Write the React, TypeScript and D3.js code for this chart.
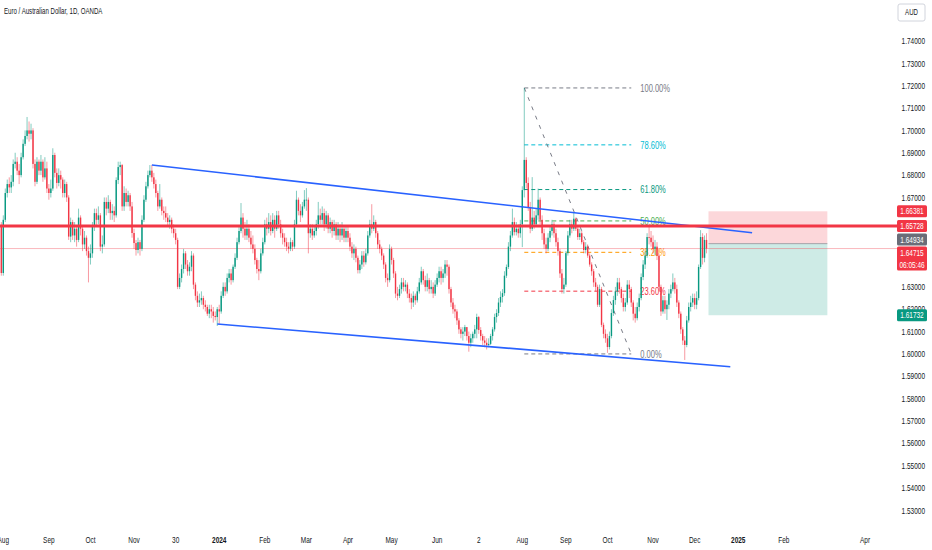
import { useEffect, useRef } from 'react';
import * as d3 from 'd3';

// first bar of the series, later bars follow on weekdays
const firstBarDate = '2023-07-31';
const firstOpen = 1.6577;

const closes = [
  1.6362,
  // Aug 2023
  1.6600, 1.6720, 1.6760, 1.6745, 1.6770, 1.6850, 1.6860, 1.6820, 1.6800, 1.6880, 1.6940, 1.6975, 1.7000, 1.6985, 1.7000, 1.6850, 1.6770, 1.6860, 1.6820, 1.6860, 1.6790, 1.6830, 1.6740,
  // Sep 2023
  1.6720, 1.6740, 1.6890, 1.6810, 1.6765, 1.6800, 1.6780, 1.6720, 1.6760, 1.6700, 1.6525, 1.6590, 1.6530, 1.6560, 1.6510, 1.6610, 1.6560, 1.6490, 1.6520, 1.6460, 1.6430,
  // Oct 2023
  1.6450, 1.6570, 1.6630, 1.6600, 1.6620, 1.6480, 1.6490, 1.6680, 1.6650, 1.6680, 1.6630, 1.6640, 1.6620, 1.6778, 1.6836, 1.6845, 1.6660, 1.6720, 1.6680, 1.6710, 1.6660, 1.6541,
  // Nov 2023
  1.6496, 1.6465, 1.6500, 1.6470, 1.6600, 1.6690, 1.6750, 1.6800, 1.6820, 1.6790, 1.6760, 1.6720, 1.6660, 1.6690, 1.6640, 1.6630, 1.6610, 1.6590, 1.6600, 1.6560, 1.6540, 1.6510,
  // Dec 2023
  1.6300, 1.6340, 1.6380, 1.6450, 1.6400, 1.6370, 1.6390, 1.6440, 1.6310, 1.6260, 1.6230, 1.6240, 1.6250, 1.6220, 1.6210, 1.6180, 1.6200, 1.6190, 1.6170, 1.6165, 1.6200,
  // Jan 2024
  1.6190, 1.6260, 1.6300, 1.6280, 1.6340, 1.6360, 1.6330, 1.6390, 1.6430, 1.6500, 1.6550, 1.6610, 1.6560, 1.6530, 1.6560, 1.6520, 1.6490, 1.6470, 1.6420, 1.6380, 1.6370, 1.6450, 1.6500,
  // Feb 2024
  1.6580, 1.6560, 1.6590, 1.6550, 1.6600, 1.6560, 1.6620, 1.6580, 1.6540, 1.6520, 1.6500, 1.6480, 1.6470, 1.6500, 1.6480, 1.6580, 1.6690, 1.6640, 1.6620, 1.6660, 1.6690,
  // Mar 2024
  1.6690, 1.6540, 1.6560, 1.6530, 1.6550, 1.6580, 1.6620, 1.6600, 1.6630, 1.6580, 1.6620, 1.6560, 1.6590, 1.6550, 1.6580, 1.6530, 1.6560, 1.6530, 1.6560, 1.6520, 1.6550,
  // Apr 2024
  1.6520, 1.6480, 1.6450, 1.6470, 1.6430, 1.6375, 1.6400, 1.6440, 1.6410, 1.6450, 1.6530, 1.6580, 1.6560, 1.6590, 1.6540, 1.6490, 1.6470, 1.6440, 1.6400, 1.6340, 1.6330, 1.6470,
  // May 2024
  1.6420, 1.6360, 1.6270, 1.6260, 1.6290, 1.6320, 1.6300, 1.6310, 1.6270, 1.6250, 1.6230, 1.6260, 1.6240, 1.6280, 1.6320, 1.6370, 1.6330, 1.6300, 1.6330, 1.6290, 1.6300, 1.6270, 1.6310,
  // Jun 2024
  1.6340, 1.6370, 1.6340, 1.6360, 1.6400, 1.6390, 1.6290, 1.6230, 1.6200, 1.6190, 1.6150, 1.6110, 1.6090, 1.6100, 1.6120, 1.6080, 1.6050, 1.6070, 1.6090, 1.6110,
  // Jul 2024
  1.6165, 1.6107, 1.6080, 1.6060, 1.6050, 1.6040, 1.6045, 1.6080, 1.6110, 1.6165, 1.6183, 1.6230, 1.6255, 1.6272, 1.6350, 1.6389, 1.6480, 1.6530, 1.6590, 1.6545, 1.6560, 1.6540, 1.6580,
  // Aug 2024
  1.6733, 1.6868, 1.6765, 1.6657, 1.6560, 1.6610, 1.6580, 1.6620, 1.6690, 1.6600, 1.6540, 1.6490, 1.6470, 1.6520, 1.6550, 1.6580, 1.6540, 1.6500, 1.6460, 1.6360, 1.6290, 1.6310,
  // Sep 2024
  1.6451, 1.6530, 1.6580, 1.6560, 1.6605, 1.6560, 1.6523, 1.6540, 1.6500, 1.6465, 1.6480, 1.6440, 1.6400, 1.6370, 1.6320, 1.6300, 1.6220, 1.6290, 1.6130, 1.6090, 1.6070,
  // Oct 2024
  1.6031, 1.6080, 1.6183, 1.6241, 1.6280, 1.6320, 1.6290, 1.6250, 1.6210, 1.6230, 1.6310, 1.6290, 1.6230, 1.6180, 1.6160, 1.6210, 1.6250, 1.6344, 1.6400, 1.6440, 1.6523, 1.6520, 1.6500,
  // Nov 2024
  1.6470, 1.6480, 1.6440, 1.6300, 1.6190, 1.6240, 1.6200, 1.6220, 1.6270, 1.6290, 1.6320, 1.6290, 1.6230, 1.6180, 1.6110, 1.6060, 1.6040, 1.6150, 1.6210, 1.6230, 1.6250,
  // Dec 2024
  1.6220, 1.6250, 1.6389, 1.6523, 1.6430, 1.6510, 1.64715,
];

const highs = [
  1.6590,
  1.6620, 1.6740, 1.6780, 1.6790, 1.6800, 1.6870, 1.6900, 1.6880, 1.6850, 1.6900, 1.6960, 1.7000, 1.7060, 1.7040, 1.7030, 1.7010, 1.6870, 1.6880, 1.6870, 1.6890, 1.6870, 1.6880, 1.6860,
  1.6760, 1.6780, 1.6920, 1.6900, 1.6830, 1.6830, 1.6820, 1.6790, 1.6780, 1.6770, 1.6710, 1.6610, 1.6600, 1.6590, 1.6570, 1.6650, 1.6620, 1.6570, 1.6550, 1.6530, 1.6480,
  1.6490, 1.6590, 1.6650, 1.6650, 1.6660, 1.6630, 1.6530, 1.6700, 1.6700, 1.6710, 1.6690, 1.6670, 1.6660, 1.6790, 1.6860, 1.6860, 1.6850, 1.6750, 1.6740, 1.6730, 1.6720, 1.6680,
  1.6560, 1.6510, 1.6520, 1.6510, 1.6620, 1.6710, 1.6770, 1.6820, 1.6845, 1.6845, 1.6810, 1.6780, 1.6730, 1.6760, 1.6700, 1.6660, 1.6660, 1.6630, 1.6620, 1.6610, 1.6580, 1.6560,
  1.6520, 1.6360, 1.6400, 1.6470, 1.6460, 1.6420, 1.6410, 1.6460, 1.6450, 1.6320, 1.6280, 1.6270, 1.6280, 1.6260, 1.6240, 1.6220, 1.6220, 1.6220, 1.6210, 1.6190, 1.6210,
  1.6220, 1.6280, 1.6320, 1.6320, 1.6360, 1.6380, 1.6380, 1.6400, 1.6450, 1.6520, 1.6570, 1.6675, 1.6630, 1.6590, 1.6600, 1.6580, 1.6550, 1.6530, 1.6490, 1.6430, 1.6420, 1.6470, 1.6520,
  1.6600, 1.6610, 1.6630, 1.6620, 1.6630, 1.6620, 1.6640, 1.6640, 1.6600, 1.6560, 1.6540, 1.6520, 1.6500, 1.6520, 1.6510, 1.6600, 1.6730, 1.6700, 1.6670, 1.6680, 1.6733,
  1.6742, 1.6700, 1.6580, 1.6580, 1.6570, 1.6600, 1.6680, 1.6650, 1.6660, 1.6650, 1.6640, 1.6630, 1.6610, 1.6600, 1.6600, 1.6590, 1.6590, 1.6580, 1.6590, 1.6570, 1.6570,
  1.6570, 1.6540, 1.6500, 1.6490, 1.6480, 1.6440, 1.6420, 1.6460, 1.6460, 1.6470, 1.6550, 1.6600, 1.6670, 1.6620, 1.6600, 1.6550, 1.6510, 1.6480, 1.6450, 1.6410, 1.6360, 1.6490,
  1.6480, 1.6430, 1.6370, 1.6300, 1.6310, 1.6340, 1.6340, 1.6330, 1.6320, 1.6290, 1.6270, 1.6280, 1.6270, 1.6300, 1.6340, 1.6390, 1.6380, 1.6350, 1.6360, 1.6340, 1.6330, 1.6320, 1.6330,
  1.6360, 1.6390, 1.6390, 1.6380, 1.6420, 1.6420, 1.6400, 1.6300, 1.6250, 1.6220, 1.6200, 1.6160, 1.6120, 1.6120, 1.6130, 1.6120, 1.6100, 1.6090, 1.6100, 1.6130,
  1.6180, 1.6170, 1.6120, 1.6090, 1.6080, 1.6070, 1.6070, 1.6090, 1.6120, 1.6180, 1.6200, 1.6250, 1.6280, 1.6290, 1.6370, 1.6400, 1.6500, 1.6550, 1.6650, 1.6610, 1.6590, 1.6580, 1.6600,
  1.6750, 1.7190, 1.6880, 1.6790, 1.6680, 1.6791, 1.6640, 1.6650, 1.6740, 1.6700, 1.6620, 1.6560, 1.6520, 1.6540, 1.6570, 1.6600, 1.6590, 1.6560, 1.6520, 1.6470, 1.6380, 1.6340,
  1.6460, 1.6550, 1.6600, 1.6600, 1.6635, 1.6610, 1.6570, 1.6560, 1.6550, 1.6510, 1.6500, 1.6490, 1.6450, 1.6410, 1.6380, 1.6340, 1.6310, 1.6310, 1.6300, 1.6140, 1.6110,
  1.6090, 1.6100, 1.6200, 1.6260, 1.6300, 1.6340, 1.6340, 1.6300, 1.6270, 1.6250, 1.6330, 1.6330, 1.6300, 1.6240, 1.6210, 1.6230, 1.6270, 1.6360, 1.6420, 1.6460, 1.6540, 1.6570, 1.6550,
  1.6530, 1.6510, 1.6500, 1.6450, 1.6310, 1.6260, 1.6260, 1.6240, 1.6290, 1.6310, 1.6360, 1.6340, 1.6310, 1.6240, 1.6190, 1.6120, 1.6080, 1.6170, 1.6230, 1.6260, 1.6270,
  1.6270, 1.6280, 1.6400, 1.6554, 1.6540, 1.6530, 1.6540,
];

const lows = [
  1.6350,
  1.6350, 1.6590, 1.6700, 1.6720, 1.6720, 1.6750, 1.6830, 1.6800, 1.6760, 1.6790, 1.6870, 1.6930, 1.6960, 1.6950, 1.6960, 1.6830, 1.6750, 1.6760, 1.6800, 1.6800, 1.6770, 1.6780, 1.6720,
  1.6690, 1.6700, 1.6730, 1.6790, 1.6740, 1.6750, 1.6740, 1.6700, 1.6700, 1.6680, 1.6510, 1.6500, 1.6510, 1.6500, 1.6480, 1.6500, 1.6530, 1.6460, 1.6470, 1.6440, 1.6320,
  1.6400, 1.6430, 1.6550, 1.6570, 1.6580, 1.6460, 1.6450, 1.6480, 1.6620, 1.6630, 1.6600, 1.6600, 1.6590, 1.6610, 1.6760, 1.6800, 1.6640, 1.6640, 1.6660, 1.6660, 1.6640, 1.6520,
  1.6470, 1.6440, 1.6450, 1.6440, 1.6460, 1.6590, 1.6680, 1.6740, 1.6790, 1.6770, 1.6740, 1.6700, 1.6640, 1.6650, 1.6620, 1.6600, 1.6590, 1.6570, 1.6560, 1.6540, 1.6520, 1.6490,
  1.6290, 1.6290, 1.6320, 1.6360, 1.6380, 1.6350, 1.6350, 1.6370, 1.6290, 1.6240, 1.6210, 1.6210, 1.6220, 1.6200, 1.6190, 1.6170, 1.6160, 1.6160, 1.6140, 1.6150, 1.6125,
  1.6135, 1.6180, 1.6250, 1.6260, 1.6270, 1.6320, 1.6310, 1.6320, 1.6380, 1.6420, 1.6490, 1.6540, 1.6520, 1.6510, 1.6510, 1.6500, 1.6470, 1.6450, 1.6400, 1.6360, 1.6330, 1.6360, 1.6440,
  1.6490, 1.6530, 1.6540, 1.6530, 1.6540, 1.6520, 1.6550, 1.6560, 1.6520, 1.6490, 1.6480, 1.6460, 1.6450, 1.6460, 1.6460, 1.6470, 1.6570, 1.6620, 1.6590, 1.6610, 1.6650,
  1.6640, 1.6450, 1.6520, 1.6510, 1.6520, 1.6530, 1.6560, 1.6580, 1.6580, 1.6550, 1.6560, 1.6540, 1.6540, 1.6520, 1.6530, 1.6510, 1.6510, 1.6500, 1.6510, 1.6500, 1.6500,
  1.6500, 1.6460, 1.6430, 1.6420, 1.6410, 1.6360, 1.6360, 1.6380, 1.6390, 1.6400, 1.6440, 1.6520, 1.6540, 1.6550, 1.6520, 1.6470, 1.6450, 1.6420, 1.6380, 1.6320, 1.6300, 1.6320,
  1.6400, 1.6340, 1.6250, 1.6240, 1.6250, 1.6270, 1.6280, 1.6280, 1.6250, 1.6230, 1.6200, 1.6210, 1.6220, 1.6230, 1.6270, 1.6310, 1.6310, 1.6280, 1.6280, 1.6270, 1.6270, 1.6250, 1.6260,
  1.6300, 1.6320, 1.6310, 1.6320, 1.6340, 1.6350, 1.6270, 1.6210, 1.6180, 1.6160, 1.6130, 1.6090, 1.6070, 1.6060, 1.6080, 1.6060, 1.6010, 1.6030, 1.6050, 1.6070,
  1.6070, 1.6090, 1.6060, 1.6040, 1.6030, 1.6020, 1.6030, 1.6040, 1.6060, 1.6100, 1.6140, 1.6170, 1.6210, 1.6230, 1.6260, 1.6340, 1.6380, 1.6460, 1.6520, 1.6530, 1.6530, 1.6520, 1.6520,
  1.6478, 1.6700, 1.6740, 1.6640, 1.6540, 1.6550, 1.6560, 1.6570, 1.6600, 1.6580, 1.6510, 1.6470, 1.6450, 1.6460, 1.6500, 1.6530, 1.6520, 1.6480, 1.6440, 1.6340, 1.6270, 1.6270,
  1.6300, 1.6440, 1.6520, 1.6540, 1.6550, 1.6550, 1.6510, 1.6510, 1.6490, 1.6450, 1.6450, 1.6430, 1.6390, 1.6350, 1.6300, 1.6280, 1.6210, 1.6210, 1.6120, 1.6070, 1.6050,
  1.6005, 1.6020, 1.6070, 1.6170, 1.6220, 1.6260, 1.6270, 1.6230, 1.6190, 1.6190, 1.6220, 1.6250, 1.6210, 1.6150, 1.6140, 1.6150, 1.6190, 1.6240, 1.6330, 1.6380, 1.6430, 1.6490, 1.6480,
  1.6450, 1.6440, 1.6420, 1.6280, 1.6170, 1.6180, 1.6180, 1.6152, 1.6200, 1.6250, 1.6280, 1.6270, 1.6210, 1.6160, 1.6090, 1.6040, 1.5973, 1.6030, 1.6140, 1.6190, 1.6210,
  1.6200, 1.6200, 1.6240, 1.6380, 1.6400, 1.6410, 1.6450,
];

const priceTicks = [1.53, 1.54, 1.55, 1.56, 1.57, 1.58, 1.59, 1.60, 1.61, 1.62, 1.63, 1.64, 1.65, 1.66, 1.67, 1.68, 1.69, 1.70, 1.71, 1.72, 1.73, 1.74];

const timeTickLabels = ['Aug', 'Sep', 'Oct', 'Nov', '30', '2024', 'Feb', 'Mar', 'Apr', 'May', 'Jun', '2', 'Aug', 'Sep', 'Oct', 'Nov', 'Dec', '2025', 'Feb', 'Apr'];
const timeTickDates = [
  '2023-08-01', '2023-09-01', '2023-10-02', '2023-11-01', '2023-11-30', '2024-01-01', '2024-02-01', '2024-03-01',
  '2024-04-01', '2024-05-01', '2024-06-03', '2024-07-02', '2024-08-01', '2024-09-02', '2024-10-01', '2024-11-01',
  '2024-12-02', '2025-01-01', '2025-02-03', '2025-04-01',
];

// fibonacci retracement
const fibHigh = 1.719;
const fibLow = 1.6;
const fibStart = '2024-08-02';
const fibEnd = '2024-10-17';
const fibLevels = [1, 0.786, 0.618, 0.5, 0.382, 0.236, 0];
const fibLabels = ['100.00%', '78.60%', '61.80%', '50.00%', '38.20%', '23.60%', '0.00%'];
const fibColors = ['#787b86', '#00bcd4', '#089981', '#4caf50', '#ff9800', '#f23645', '#787b86'];

// channel trend lines [date, price]
const upperChannel: [string, number][] = [['2023-11-14', 1.6845], ['2025-01-10', 1.6542]];
const lowerChannel: [string, number][] = [['2023-12-29', 1.6134], ['2024-12-26', 1.5943]];

// short position tool
const positionStart = '2024-12-11';
const positionEnd = '2025-03-05';
const stopPrice = 1.66381;
const entryPrice = 1.64934;
const targetPrice = 1.61732;

const resistancePrice = 1.65728;
const lastPrice = 1.64715;
const countdown = '06:05:46';

const FONT = '"Liberation Sans", Arial, sans-serif';
const SQUASH = 0.72;
const UP = '#089981';
const DOWN = '#f23645';

function barIndex(s: string) {
  const base = new Date(firstBarDate + 'T00:00:00Z');
  const end = new Date(s + 'T00:00:00Z');
  let n = 0;
  for (const t = new Date(base); t < end; t.setUTCDate(t.getUTCDate() + 1)) {
    const w = t.getUTCDay();
    if (w !== 0 && w !== 6) n++;
  }
  return n;
}

export default function App() {
  const svgRef = useRef<SVGSVGElement>(null);

  useEffect(() => {
    document.body.style.margin = '0';
    if (!svgRef.current) return;
    const svg = d3.select(svgRef.current);
    svg.selectAll('*').remove();

    const width = 932;
    const height = 550;
    const axisX = 897;

    const x = d3.scaleLinear().domain([0, 436]).range([1.32, 865]);
    const y = d3.scaleLinear().domain([1.53, 1.74]).range([510.4, 41]);

    svg.append('rect').attr('width', width).attr('height', height).attr('fill', '#ffffff');

    const txt = (
      parent: d3.Selection<any, unknown, null, undefined>,
      tx: number,
      ty: number,
      s: string,
      size: number,
      fill: string,
      anchor = 'start',
      weight = 400,
    ) =>
      parent
        .append('text')
        .attr('transform', `translate(${tx},${ty}) scale(${SQUASH},1)`)
        .attr('text-anchor', anchor)
        .attr('dy', '0.35em')
        .attr('font-family', FONT)
        .attr('font-size', size)
        .attr('font-weight', weight)
        .attr('fill', fill)
        .text(s);

    // Position tool boxes
    const px0 = x(barIndex(positionStart));
    const px1 = x(barIndex(positionEnd));
    svg.append('rect')
      .attr('x', px0).attr('width', px1 - px0)
      .attr('y', y(stopPrice)).attr('height', y(entryPrice) - y(stopPrice))
      .attr('fill', DOWN).attr('fill-opacity', 0.2);
    svg.append('rect')
      .attr('x', px0).attr('width', px1 - px0)
      .attr('y', y(entryPrice)).attr('height', y(targetPrice) - y(entryPrice))
      .attr('fill', UP).attr('fill-opacity', 0.2);
    svg.append('line')
      .attr('x1', px0).attr('x2', px1)
      .attr('y1', y(entryPrice)).attr('y2', y(entryPrice))
      .attr('stroke', '#787b86').attr('stroke-opacity', 0.6);

    // Fibonacci retracement
    const fx0 = x(barIndex(fibStart));
    const fx1 = x(barIndex(fibEnd));
    const fib = svg.append('g');
    fibLevels.forEach((lv, i) => {
      const p = fibLow + (fibHigh - fibLow) * lv;
      fib.append('line')
        .attr('x1', fx0).attr('x2', fx1)
        .attr('y1', y(p)).attr('y2', y(p))
        .attr('stroke', fibColors[i]).attr('stroke-width', 1)
        .attr('stroke-dasharray', '4,3');
      txt(fib, fx1 + 9, y(p), fibLabels[i], 10.5, fibColors[i]);
    });
    fib.append('line')
      .attr('x1', fx0).attr('y1', y(fibHigh))
      .attr('x2', fx1).attr('y2', y(fibLow))
      .attr('stroke', '#787b86').attr('stroke-width', 1)
      .attr('stroke-dasharray', '4,6');

    // current price line
    svg.append('line')
      .attr('x1', 0).attr('x2', axisX)
      .attr('y1', y(lastPrice)).attr('y2', y(lastPrice))
      .attr('stroke', DOWN).attr('stroke-opacity', 0.35).attr('stroke-width', 1);

    // Candles
    const candles = svg.append('g');
    closes.forEach((c, k) => {
      const o = k === 0 ? firstOpen : closes[k - 1];
      const h = Math.max(highs[k] ?? c, o, c);
      const l = Math.min(lows[k] ?? c, o, c);
      const col = c >= o ? UP : DOWN;
      const cx = x(k);
      candles.append('line')
        .attr('x1', cx).attr('x2', cx)
        .attr('y1', y(h)).attr('y2', y(l))
        .attr('stroke', col).attr('stroke-opacity', 0.5).attr('stroke-width', 1);
      const top = y(Math.max(o, c));
      candles.append('rect')
        .attr('x', cx - 0.7).attr('width', 1.4)
        .attr('y', top).attr('height', Math.max(0.8, y(Math.min(o, c)) - top))
        .attr('fill', col);
    });

    // Channel lines
    [upperChannel, lowerChannel].forEach((pts) => {
      svg.append('line')
        .attr('x1', x(barIndex(pts[0][0]))).attr('y1', y(pts[0][1]))
        .attr('x2', x(barIndex(pts[1][0]))).attr('y2', y(pts[1][1]))
        .attr('stroke', '#2962ff').attr('stroke-width', 1.6);
    });

    // Resistance line
    svg.append('line')
      .attr('x1', 0).attr('x2', axisX)
      .attr('y1', y(resistancePrice)).attr('y2', y(resistancePrice))
      .attr('stroke', DOWN).attr('stroke-width', 3);

    // Price axis labels (stacked so they do not overlap)
    const boxH = 12;
    const marks = [
      { lines: [stopPrice.toFixed(5)], price: stopPrice, color: DOWN },
      { lines: [resistancePrice.toFixed(5)], price: resistancePrice, color: DOWN },
      { lines: [entryPrice.toFixed(5)], price: entryPrice, color: '#6a6d78' },
      { lines: [lastPrice.toFixed(5), countdown], price: lastPrice, color: DOWN },
      { lines: [targetPrice.toFixed(5)], price: targetPrice, color: UP },
    ].map((m) => ({ ...m, top: y(m.price) - boxH / 2, h: boxH * m.lines.length }));
    for (let it = 0; it < 20; it++) {
      for (let i = 1; i < marks.length; i++) {
        const a = marks[i - 1];
        const b = marks[i];
        const overlap = a.top + a.h + 1 - b.top;
        if (overlap > 0) {
          a.top -= overlap / 2;
          b.top += overlap / 2;
        }
      }
    }

    const axis = svg.append('g');
    priceTicks.forEach((p) => {
      const ty = y(p);
      const covered = d3.sum(marks, (m) => Math.max(0, Math.min(ty + 4, m.top + m.h) - Math.max(ty - 4, m.top)));
      if (covered > 5) return;
      txt(axis, 925, ty, p.toFixed(5), 9, '#131722', 'end');
    });
    marks.forEach((m) => {
      axis.append('rect')
        .attr('x', axisX).attr('y', m.top)
        .attr('width', 30).attr('height', m.h)
        .attr('rx', 1.5).attr('fill', m.color);
      m.lines.forEach((s, j) => txt(axis, axisX + 15, m.top + boxH / 2 + j * boxH, s, 9, '#ffffff', 'middle'));
    });

    // Time axis
    timeTickLabels.forEach((s, i) => {
      const bold = s.length === 4 && /^\d+$/.test(s);
      txt(svg, x(barIndex(timeTickDates[i])), 540, s, 9, '#131722', 'middle', bold ? 700 : 400);
    });

    // Title and currency badge
    txt(svg, 4, 11.5, 'Euro / Australian Dollar, 1D, OANDA', 8.5, '#131722');
    svg.append('rect')
      .attr('x', 898).attr('y', 4).attr('width', 27).attr('height', 17).attr('rx', 2)
      .attr('fill', '#ffffff').attr('stroke', '#d1d4dc');
    txt(svg, 911.5, 12.5, 'AUD', 8.5, '#131722', 'middle');
  }, []);

  return <svg ref={svgRef} width={932} height={550} style={{ display: 'block' }} />;
}
